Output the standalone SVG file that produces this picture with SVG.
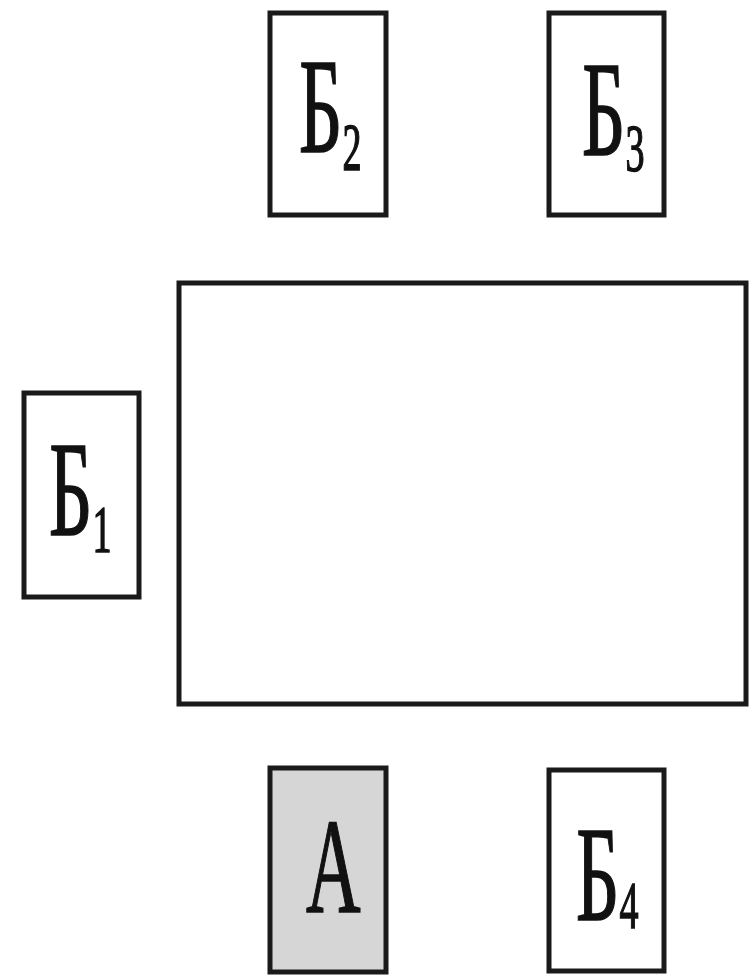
<svg xmlns="http://www.w3.org/2000/svg" width="753" height="979" viewBox="0 0 753 979">
<style>
.box{fill:#fff;stroke:#1a1a1a;stroke-width:5}
.grey{fill:#d6d6d6}
.lbl{font-family:"Liberation Serif","Times New Roman",serif;font-size:135px;fill:#111;stroke:#111;stroke-width:1.6}
.sub{font-size:68px}
</style>
<rect width="753" height="979" fill="#fff"/>
<g id="table"><rect class="box" x="179" y="283" width="567" height="421"/></g>
<g id="B1"><rect class="box" x="24" y="393" width="115" height="204"/>
<text class="lbl" transform="translate(49,535) scale(0.56,1)">Б<tspan class="sub" dy="17">1</tspan></text></g>
<g id="B2"><rect class="box" x="270" y="13" width="116" height="202"/>
<text class="lbl" transform="translate(299,152) scale(0.56,1)">Б<tspan class="sub" dy="18">2</tspan></text></g>
<g id="B3"><rect class="box" x="549" y="13" width="115" height="202"/>
<text class="lbl" transform="translate(582,155) scale(0.56,1)">Б<tspan class="sub" dy="16">3</tspan></text></g>
<g id="A"><rect class="box grey" x="270" y="768" width="116" height="204"/>
<text class="lbl" transform="translate(306,912) scale(0.56,1)">А</text></g>
<g id="B4"><rect class="box" x="549" y="770" width="115" height="201"/>
<text class="lbl" transform="translate(576,920) scale(0.56,1)">Б<tspan class="sub" dy="8">4</tspan></text></g>
<g id="connectors"/>
</svg>
